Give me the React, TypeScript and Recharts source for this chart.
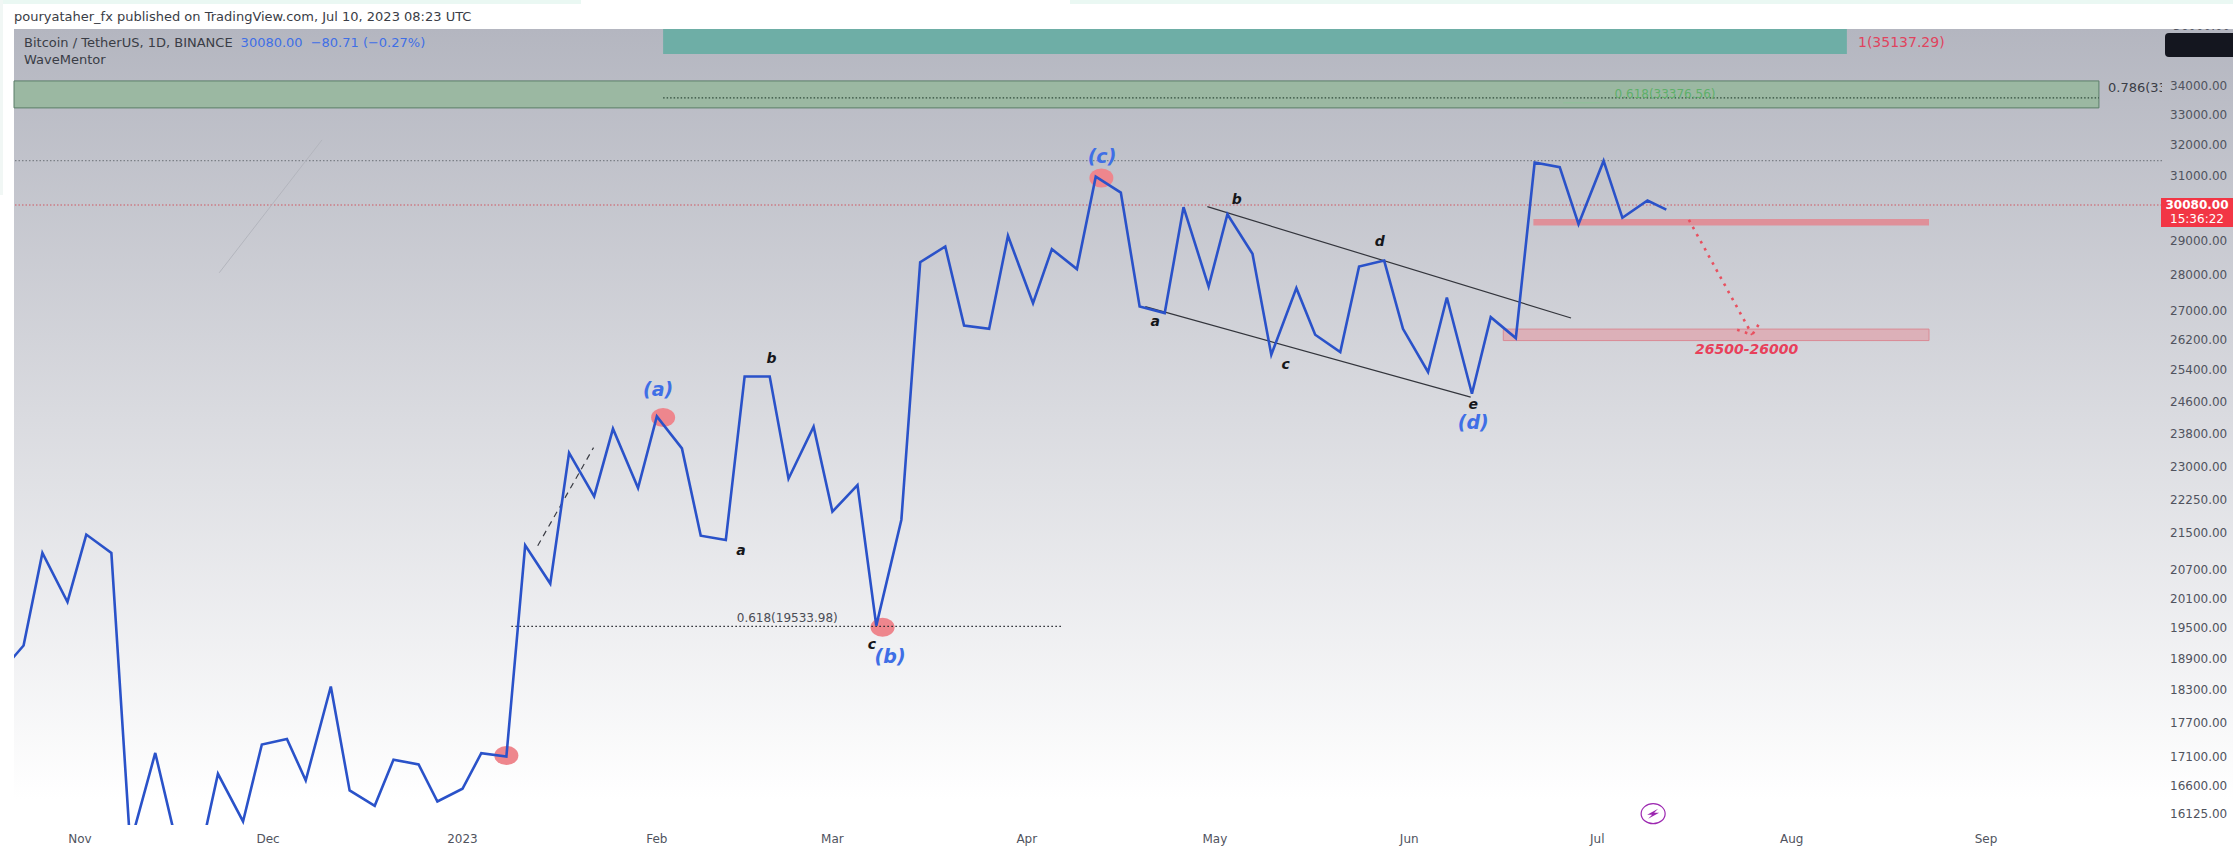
import { LineChart, Line, XAxis, YAxis, ReferenceLine, ReferenceArea, ReferenceDot, Label } from "recharts";

// days since 1 Nov 2022, two closes a week as plotted
const dayOffsets = [
  -13, -9, -6, -2, 1, 5, 8, 12, 15, 19, 22, 26, 29, 33, 36, 40, 43, 47, 50, 54, 57, 61, 64, 68, 71, 75,
  78, 82, 85, 89, 92, 96, 99, 103, 106, 110, 113, 117, 120, 124, 127, 131, 134, 138, 141, 145, 148, 152,
  155, 159, 162, 166, 169, 173, 176, 180, 183, 187, 190, 194, 197, 201, 204, 208, 211, 215, 218, 222,
  225, 229, 232, 236, 239, 243, 246, 250, 253,
];
const closes = [
  18595, 19156, 21063, 20030, 21462, 21063, 15623, 17160, 15816, 15385, 16797, 15997, 17309, 17409, 16683,
  18368, 16514, 16255, 17043, 16958, 16327, 16542, 17155, 17097, 21226, 20411, 23336, 22318, 23918, 22510,
  24223, 23443, 21437, 21344, 25235, 25235, 22726, 23970, 21971, 22579, 19550, 21791, 28368, 28828, 26588,
  26498, 29145, 27203, 28751, 28169, 30967, 30467, 27108, 26928, 30015, 27669, 29798, 28614, 25803, 27624,
  26336, 25874, 28245, 28417, 26498, 25350, 27362, 24792, 26815, 26247, 31416, 31270, 29495, 31470, 29688,
  30219, 29940,
];

const monthDays = [0, 30, 61, 92, 120, 151, 181, 212, 242, 273, 304];
const monthLabels = ["Nov", "Dec", "2023", "Feb", "Mar", "Apr", "May", "Jun", "Jul", "Aug", "Sep"];
const priceTicks = [
  34000, 33000, 32000, 31000, 29000, 28000, 27000, 26200, 25400, 24600, 23800, 23000, 22250, 21500, 20700,
  20100, 19500, 18900, 18300, 17700, 17100, 16600, 16125,
];

const dayMin = -10.53;
const dayMax = 332.06;
const priceMin = 15939;
const priceMax = 36023;

// pivots marked with a pink blob: [day, price]
const pivots = [
  [68, 17116],
  [93, 24197],
  [128, 19517],
  [162.9, 30921],
];
// wave names: [text, day, price]
const waveLabels: [string, number, number][] = [
  ["(a)", 92.2, 24895],
  ["(b)", 129.2, 18944],
  ["(c)", 163, 31609],
  ["(d)", 222.2, 24075],
];
const subLabels: [string, number, number][] = [
  ["a", 105.4, 21117],
  ["b", 110.3, 25714],
  ["c", 126.3, 19177],
  ["a", 171.5, 26697],
  ["b", 184.5, 30270],
  ["c", 192.3, 25565],
  ["d", 207.3, 28995],
  ["e", 222.2, 24538],
];
// channel and target drawings: [day1, price1, day2, price2]
const channelLines = [
  [179.8, 30032, 237.8, 26792],
  [169.9, 27108, 221.8, 24708],
];
const arrowLines = [
  [256.6, 29627, 266.7, 26336],
  [264.3, 26470, 266.7, 26336],
  [267.7, 26608, 266.7, 26336],
];

const chartData = dayOffsets.map((day, i) => ({ day, close: closes[i] }));
const seg = (a: number[]) => [
  { x: a[0], y: a[1] },
  { x: a[2], y: a[3] },
];

const FONT = "'DejaVu Sans', sans-serif";
const BLUE = "#2a52c9";

function Bolt(props: any) {
  const { cx, cy } = props;
  return (
    <g>
      <ellipse cx={cx} cy={cy} rx={12} ry={10} fill="none" stroke="#9c27b0" strokeWidth={1.2} />
      <path
        d={`M${cx + 5} ${cy - 5} L${cx - 6} ${cy + 1} L${cx - 1} ${cy + 1} L${cx - 5} ${cy + 5} L${cx + 6} ${cy - 1} L${cx + 1} ${cy - 1} Z`}
        fill="#9c27b0"
      />
    </g>
  );
}

function Blob(props: any) {
  return <ellipse cx={props.cx} cy={props.cy} rx={12} ry={9.5} fill="#ee868d" />;
}

export default function App() {
  const dotProps: any = { zIndex: 100 };
  return (
    <div style={{ position: "absolute", left: 0, top: 0, width: 2233, height: 849, background: "#fff", overflow: "hidden", fontFamily: FONT }}>
      <div style={{ position: "absolute", left: 0, top: 0, width: 581, height: 4, background: "#eaf8f3" }} />
      <div style={{ position: "absolute", left: 1070, top: 0, width: 1163, height: 4, background: "#eaf8f3" }} />
      <div style={{ position: "absolute", left: 0, top: 0, width: 3, height: 195, background: "#f1f7f5" }} />
      <div
        style={{
          position: "absolute",
          left: 14,
          top: 29,
          width: 2219,
          height: 820,
          background: "linear-gradient(to bottom, #b4b6c0 0%, #ffffff 94%)",
        }}
      />
      <div style={{ position: "absolute", left: 14, top: 9, fontSize: 13, color: "#3a3d46", whiteSpace: "nowrap" }}>
        pouryataher_fx published on TradingView.com, Jul 10, 2023 08:23 UTC
      </div>

      <div style={{ position: "absolute", left: 0, top: 0 }}>
        <LineChart width={2233} height={849} data={chartData} margin={{ top: 29, right: 0, bottom: 0, left: 14 }}>
          <XAxis
            dataKey="day"
            type="number"
            domain={[dayMin, dayMax]}
            allowDataOverflow
            ticks={monthDays}
            interval={0}
            height={24}
            axisLine={false}
            tickLine={false}
            tickMargin={3}
            tickFormatter={(d: number) => monthLabels[monthDays.indexOf(d)]}
            tick={{ fill: "#50535e", fontSize: 12, fontFamily: FONT }}
          />
          <YAxis
            orientation="right"
            scale="log"
            domain={[priceMin, priceMax]}
            allowDataOverflow
            ticks={priceTicks}
            interval={0}
            width={71}
            axisLine={false}
            tickLine={false}
            tickFormatter={(v: number) => v.toFixed(2)}
            tick={{ fill: "#50535e", fontSize: 12, fontFamily: FONT }}
          />

          {/* fib zones */}
          <ReferenceArea x1={93} x2={281.8} y1={35115} y2={priceMax} fill="#6eaea6" fillOpacity={1} stroke="none" />
          <ReferenceArea x1={dayMin} x2={322} y1={33226} y2={34157} fill="#9bb8a2" fillOpacity={1} stroke="#5b7d68" />
          <ReferenceLine segment={seg([93, 33567, 322, 33567])} stroke="#2f4a3a" strokeWidth={1.2} strokeDasharray="1.5 2" />
          <ReferenceLine segment={seg([236.6, 33400, 242.4, 33400])} stroke="#8fc09a" />
          <ReferenceLine y={31480} stroke="#7c8087" strokeWidth={1.2} strokeDasharray="1.5 2" />
          <ReferenceLine y={30080} stroke="#cf5660" strokeWidth={1.2} strokeDasharray="1.5 2" />
          <ReferenceLine segment={seg([38.6, 32155, 22.2, 28063])} stroke="#b3b5bd" />
          <ReferenceLine segment={seg([68.8, 19534, 156.7, 19534])} stroke="#22242a" strokeWidth={1.2} strokeDasharray="1.5 2.5" />
          <ReferenceLine segment={seg([73, 21219, 81.9, 23461])} stroke="#3a3c44" strokeWidth={1.2} strokeDasharray="6 5" />

          {/* target zones */}
          <ReferenceArea x1={231.8} x2={294.9} y1={29453} y2={29654} fill="#df9099" fillOpacity={1} stroke="none" />
          <ReferenceArea x1={227} x2={294.9} y1={26180} y2={26490} fill="#dcb0b8" fillOpacity={1} stroke="#d98a95" />

          {pivots.map((p, i) => (
            <ReferenceDot key={i} x={p[0]} y={p[1]} r={12} shape={Blob} {...dotProps} />
          ))}

          {channelLines.map((l, i) => (
            <ReferenceLine key={i} segment={seg(l)} stroke="#33353c" strokeWidth={1.2} />
          ))}
          {arrowLines.map((l, i) => (
            <ReferenceLine key={i} segment={seg(l)} stroke="#e8505f" strokeWidth={2.6} strokeDasharray="2.6 5.5" />
          ))}

          <Line dataKey="close" stroke={BLUE} strokeWidth={2.6} dot={false} isAnimationActive={false} />

          {waveLabels.map(([text, d, p], i) => (
            <ReferenceDot key={i} x={d} y={p} r={0} fill="none" stroke="none">
              <Label value={text} position="center" fill="#3f6fe6" fontSize={19} fontWeight={700} fontStyle="italic" fontFamily={FONT} />
            </ReferenceDot>
          ))}
          {subLabels.map(([text, d, p], i) => (
            <ReferenceDot key={i} x={d} y={p} r={0} fill="none" stroke="none">
              <Label value={text} position="center" fill="#15161a" fontSize={14} fontWeight={700} fontStyle="italic" fontFamily={FONT} />
            </ReferenceDot>
          ))}
          <ReferenceDot x={265.8} y={25952} r={0} fill="none" stroke="none">
            <Label value="26500-26000" position="center" fill="#e8405a" fontSize={14} fontWeight={700} fontStyle="italic" fontFamily={FONT} />
          </ReferenceDot>
          <ReferenceDot x={112.8} y={19712} r={0} fill="none" stroke="none">
            <Label value="0.618(19533.98)" position="center" fill="#4a4c55" fontSize={12} fontFamily={FONT} />
          </ReferenceDot>
          <ReferenceDot x={252.8} y={33720} r={0} fill="none" stroke="none">
            <Label value="0.618(33376.56)" position="center" fill="#5fb06a" fontSize={12} fontFamily={FONT} />
          </ReferenceDot>
          <ReferenceDot x={250.9} y={16125} shape={Bolt} />
        </LineChart>
      </div>

      {/* header and price scale overlays */}
      <div style={{ position: "absolute", left: 24, top: 35, fontSize: 13, color: "#3a3d46", whiteSpace: "nowrap" }}>
        Bitcoin / TetherUS, 1D, BINANCE<span style={{ color: "#3f6fe6", marginLeft: 8 }}>30080.00</span>
        <span style={{ color: "#3f6fe6", marginLeft: 8 }}>−80.71 (−0.27%)</span>
      </div>
      <div style={{ position: "absolute", left: 24, top: 52, fontSize: 13, color: "#3a3d46" }}>WaveMentor</div>
      <div style={{ position: "absolute", left: 1858, top: 34, fontSize: 14, color: "#e0435e" }}>1(35137.29)</div>
      <div style={{ position: "absolute", left: 2108, top: 80, width: 54, overflow: "hidden", fontSize: 13, color: "#3a3d46", whiteSpace: "nowrap" }}>0.786(33</div>
      <div style={{ position: "absolute", left: 2173, top: 29, width: 60, height: 4, overflow: "hidden" }}>
        <div style={{ position: "absolute", top: -10, fontSize: 12, color: "#50535e" }}>36000.00</div>
      </div>
      <div style={{ position: "absolute", left: 2165, top: 33, width: 68, height: 24, background: "#14161f", borderRadius: "4px 0 0 4px" }} />
      <div style={{ position: "absolute", left: 2161, top: 198, width: 72, height: 29, background: "#f23645", color: "#fff", fontSize: 12, lineHeight: "14px", textAlign: "center" }}>
        <div style={{ fontWeight: 700 }}>30080.00</div>
        <div>15:36:22</div>
      </div>
    </div>
  );
}
